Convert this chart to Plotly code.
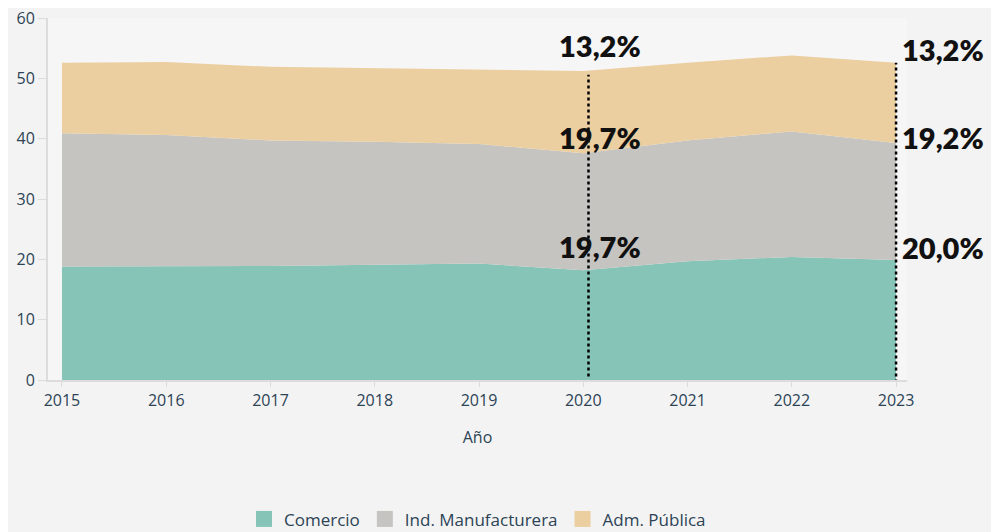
import plotly.graph_objects as go

years = [2015, 2016, 2017, 2018, 2019, 2020, 2021, 2022, 2023]
comercio = [18.8, 18.8, 18.9, 19.1, 19.3, 18.2, 19.7, 20.4, 19.9]
manufactura = [22.1, 21.8, 20.8, 20.4, 19.8, 19.4, 20.0, 20.8, 19.4]
adm_publica = [11.7, 12.1, 12.2, 12.2, 12.4, 13.6, 12.9, 12.6, 13.3]

series_names = ['Comercio', 'Ind. Manufacturera', 'Adm. Pública']
series_colors = ['#85c4b7', '#c5c4c0', '#ebcfa0']

# labels shown next to the dotted lines (top, middle, bottom)
label_years = [2020, 2023]
label_top = ['13,2%', '13,2%']
label_mid = ['19,7%', '19,2%']
label_low = ['19,7%', '20,0%']

text_color = '#2c4356'

fig = go.Figure()

for name, values, color in zip(series_names, [comercio, manufactura, adm_publica], series_colors):
    fig.add_trace(go.Scatter(
        x=years,
        y=values,
        name=name,
        mode='lines',
        stackgroup='one',
        line=dict(width=0, color=color),
        fillcolor=color,
        showlegend=False,
    ))

# square legend swatches
for name, color in zip(series_names, series_colors):
    fig.add_trace(go.Scatter(
        x=[None], y=[None],
        name=name,
        mode='markers',
        marker=dict(symbol='square', size=20, color=color),
        showlegend=True,
    ))

# cumulative tops, used to place the dotted lines and labels
stack1 = comercio
stack2 = [a + b for a, b in zip(comercio, manufactura)]
stack3 = [a + b + c for a, b, c in zip(comercio, manufactura, adm_publica)]

shifts = {2020: (26, 16, 24), 2023: (13, 5, 12)}

for i, yr in enumerate(label_years):
    idx = years.index(yr)
    is_last = yr == years[-1]
    fig.add_shape(
        type='line', xref='x', yref='y',
        x0=yr + (0 if is_last else 0.05), x1=yr + (0 if is_last else 0.05),
        y0=-1.4 if is_last else 0.6, y1=stack3[idx] - (0 if is_last else 0.6),
        line=dict(color='black', width=2.5, dash='dot'),
        layer='above',
    )
    for txt, yv, shift in zip([label_top[i], label_mid[i], label_low[i]],
                              [stack3[idx], stack2[idx], stack1[idx]], shifts[yr]):
        fig.add_annotation(
            x=yr, y=yv, xref='x', yref='y',
            text=txt, showarrow=False,
            xanchor='left' if is_last else 'center',
            xshift=4 if is_last else 17,
            yshift=shift,
            font=dict(family='Lato', size=29, color='#111111', weight=800),
        )

fig.update_layout(
    width=991,
    height=524,
    margin=dict(l=40, r=92, t=10, b=152, autoexpand=False),
    paper_bgcolor='#f3f3f3',
    plot_bgcolor='#f6f6f6',
    font=dict(family='Open Sans', color=text_color, size=16),
    showlegend=True,
    legend=dict(
        orientation='h',
        x=0.5, xanchor='center',
        y=-0.385, yanchor='middle',
        font=dict(family='Open Sans', size=17, color=text_color),
        bgcolor='rgba(0,0,0,0)',
        traceorder='normal',
    ),
    xaxis=dict(
        range=[2014.866, 2023.105],
        tickvals=years,
        ticktext=[str(y) for y in years],
        showgrid=False,
        zeroline=False,
        showline=True,
        linecolor='#dcdcdc',
        linewidth=2,
        ticks='outside',
        ticklen=5,
        tickcolor='#dcdcdc',
        tickfont=dict(size=16, color=text_color),
        title=dict(text='Año', font=dict(size=16, color=text_color), standoff=22),
    ),
    yaxis=dict(
        range=[0, 60],
        tickvals=[0, 10, 20, 30, 40, 50, 60],
        showgrid=False,
        zeroline=False,
        showline=True,
        linecolor='#dcdcdc',
        linewidth=2,
        ticks='outside',
        ticklen=8,
        tickcolor='#dcdcdc',
        tickfont=dict(size=16, color=text_color),
        ticklabeloverflow='allow',
    ),
)

fig.write_html("out.html")
